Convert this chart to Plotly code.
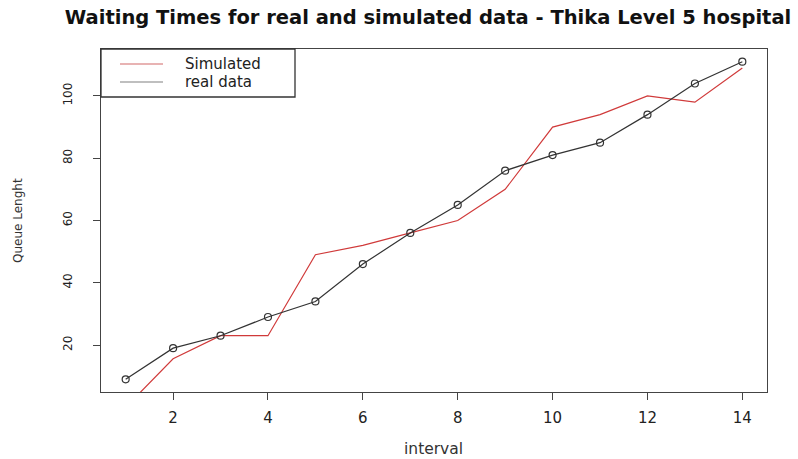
import plotly.graph_objects as go

interval = list(range(1, 15))
real_data = [9, 19, 23, 29, 34, 46, 56, 65, 76, 81, 85, 94, 104, 111]
simulated = [0, 15.6, 23, 23, 49, 52, 56, 60, 70, 90, 94, 100, 98, 109]
x_ticks = [2, 4, 6, 8, 10, 12, 14]
y_ticks = [20, 40, 60, 80, 100]
legend_names = ["Simulated", "real data"]
legend_colors = ["#e09a9a", "#aaaaaa"]

title_text = "Waiting Times for real and simulated data - Thika Level 5 hospital"
FONT = "DejaVu Sans, Verdana, sans-serif"

W, H = 798, 459
L, R, T, B = 101, 31, 49, 67
PW, PH = W - L - R, H - T - B

def px(x):
    return (x - L) / PW

def py(y):
    return 1 - (y - T) / PH

fig = go.Figure()
fig.add_trace(go.Scatter(
    x=interval, y=simulated, mode="lines",
    line=dict(color="#d03a3a", width=1.2), showlegend=False))
fig.add_trace(go.Scatter(
    x=interval, y=real_data, mode="lines+markers",
    line=dict(color="#333333", width=1.2),
    marker=dict(symbol="circle-open", size=7, color="#333333", line=dict(width=1.2)),
    showlegend=False))

fig.update_layout(
    width=W, height=H,
    margin=dict(l=L, r=R, t=T, b=B),
    paper_bgcolor="white", plot_bgcolor="white",
    font=dict(family=FONT, color="#222222"),
    title=dict(text="<b>" + title_text + "</b>", x=428 / W, xanchor="center",
               y=1 - 17 / H, yanchor="middle",
               font=dict(size=19.5, color="#111111", family=FONT)),
    showlegend=False,
)
fig.update_xaxes(
    range=[0.48, 14.52], tickmode="array", tickvals=x_ticks,
    showgrid=False, zeroline=False, showline=True, mirror=True,
    linecolor="#444444", linewidth=1.3,
    ticks="outside", ticklen=7, tickcolor="#444444", tickwidth=1.3,
    tickfont=dict(size=15, color="#222222", family=FONT), ticklabelstandoff=5,
)
fig.update_yaxes(
    range=[4.92, 115.08], tickmode="array", tickvals=y_ticks,
    showgrid=False, zeroline=False, showline=True, mirror=True,
    linecolor="#444444", linewidth=1.3,
    ticks="outside", ticklen=7, tickcolor="#444444", tickwidth=1.3,
    tickangle=-90,
    tickfont=dict(size=12, color="#222222", family=FONT), ticklabelstandoff=16,
)
# legend box
fig.add_shape(type="rect", xref="paper", yref="paper",
              x0=0, x1=px(295), y0=py(97), y1=1,
              line=dict(color="#333333", width=1.3), fillcolor="rgba(0,0,0,0)")
for i, (name, col) in enumerate(zip(legend_names, legend_colors)):
    yy = 64 + 18 * i
    fig.add_shape(type="line", xref="paper", yref="paper",
                  x0=px(120), x1=px(163), y0=py(yy), y1=py(yy),
                  line=dict(color=col, width=1.5))
    fig.add_annotation(text=name, xref="paper", yref="paper",
                       x=px(183), y=py(yy), xanchor="left", yanchor="middle",
                       showarrow=False,
                       font=dict(size=15, color="#222222", family=FONT))
# axis titles
fig.add_annotation(text="interval", xref="paper", yref="paper",
                   x=px(433), y=py(449), xanchor="center", yanchor="middle",
                   showarrow=False, font=dict(size=15.5, color="#333333", family=FONT))
fig.add_annotation(text="Queue Lenght", xref="paper", yref="paper",
                   x=px(18), y=py(221), xanchor="center", yanchor="middle",
                   textangle=-90, showarrow=False,
                   font=dict(size=12, color="#333333", family=FONT))

fig.write_html("out.html", config={"displayModeBar": False},
               post_script="document.body.style.margin='0';")
